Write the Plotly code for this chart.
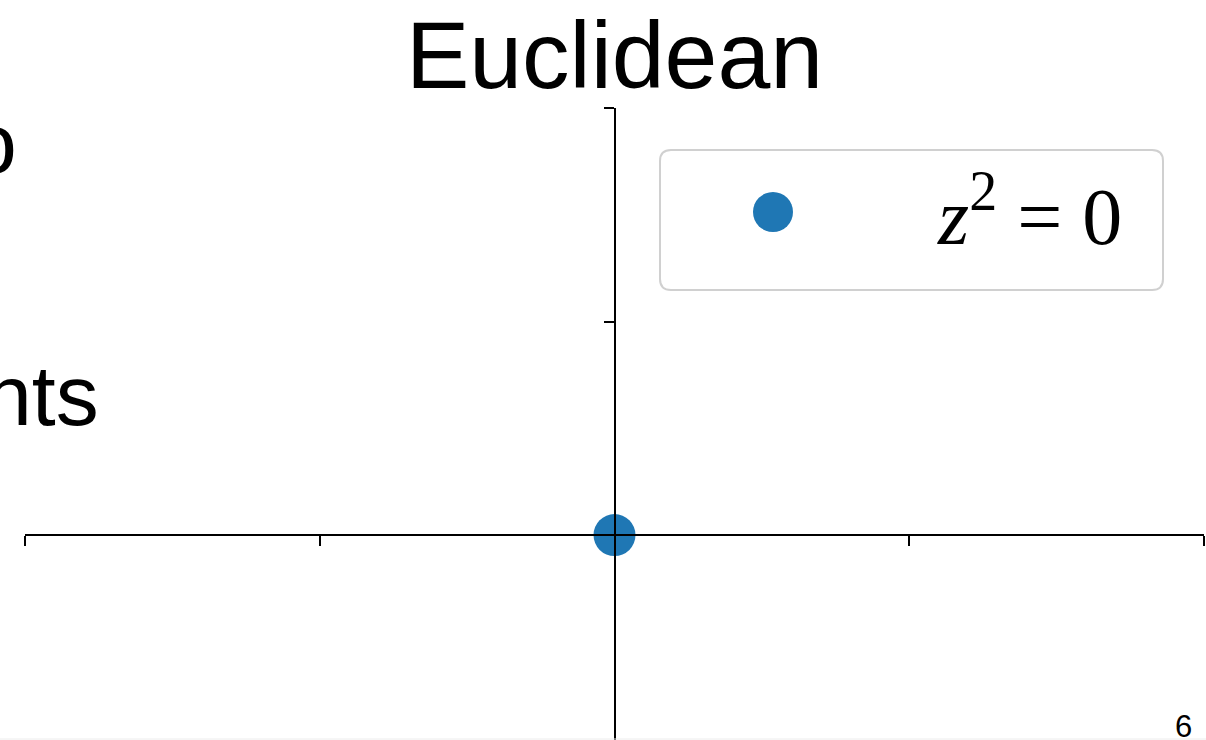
import plotly.graph_objects as go

# figure / plot area in pixels
W, H = 1206, 740
L, R, T, B = 25, 2, 108, 0

# data
points_x = [0]
points_y = [0]
x_ticks = [-2, -1, 0, 1, 2]
y_ticks = [-1, 0, 1, 2]
x_range = [-2, 2]
y_range = [-0.96, 2]

title_text = "Euclidean"
legend_label = "<i>z</i><sup>2</sup>&nbsp;=&nbsp;0"
slide_lines = ["o", "nts"]
page_number = "6"

blue = "#1f77b4"


def px_x(px):
    return (px - L) / (W - L - R)


def px_y(py):
    return (H - B - py) / (H - T - B)


# where the spines cross (origin), as fractions of the plot area
x0_frac = (0 - x_range[0]) / (x_range[1] - x_range[0])
y0_frac = (0 - y_range[0]) / (y_range[1] - y_range[0])

fig = go.Figure()
fig.add_trace(go.Scatter(x=points_x, y=points_y, mode="markers",
                         marker=dict(size=42, color=blue),
                         cliponaxis=False, showlegend=False))

axis_style = dict(showticklabels=False, showline=True, linecolor="black",
                  linewidth=2, ticks="outside", ticklen=10, tickwidth=2,
                  tickcolor="black", showgrid=False, zeroline=False,
                  anchor="free", fixedrange=True)

fig.update_layout(
    width=W, height=H,
    margin=dict(l=L, r=R, t=T, b=B),
    paper_bgcolor="white", plot_bgcolor="white",
    xaxis=dict(range=x_range, tickvals=x_ticks, position=y0_frac, **axis_style),
    yaxis=dict(range=y_range, tickvals=y_ticks, position=x0_frac, **axis_style),
    title=dict(text=title_text, x=0.5, xref="paper", xanchor="center",
               y=1 - 55 / H, yref="container", yanchor="middle",
               font=dict(family="Liberation Sans, Arial", size=95, color="black")),
    showlegend=False,
)

# legend box drawn by hand (rounded rectangle + big marker)
hw, hh, rr = 251.5, 70, 11
box_path = (f"M {-hw + rr},{-hh} L {hw - rr},{-hh} Q {hw},{-hh} {hw},{-hh + rr} "
            f"L {hw},{hh - rr} Q {hw},{hh} {hw - rr},{hh} L {-hw + rr},{hh} "
            f"Q {-hw},{hh} {-hw},{hh - rr} L {-hw},{-hh + rr} Q {-hw},{-hh} {-hw + rr},{-hh} Z")
fig.add_shape(type="path", path=box_path, xref="paper", yref="paper",
              xsizemode="pixel", ysizemode="pixel",
              xanchor=px_x(911.5), yanchor=px_y(220),
              line=dict(color="#d0d0d0", width=2), fillcolor="white")
fig.add_shape(type="circle", xref="paper", yref="paper",
              xsizemode="pixel", ysizemode="pixel",
              xanchor=px_x(773), yanchor=px_y(212),
              x0=-20, x1=20, y0=-20, y1=20,
              line=dict(width=0), fillcolor=blue)
fig.add_annotation(text=legend_label, xref="paper", yref="paper",
                   x=px_x(1124), y=px_y(210), xanchor="right", yanchor="middle",
                   showarrow=False,
                   font=dict(family="Liberation Serif, DejaVu Serif", size=80, color="black"))

# slide text cut off on the left
fig.add_annotation(text=slide_lines[0], xref="paper", yref="paper",
                   x=px_x(19), y=px_y(143), xanchor="right", yanchor="middle",
                   showarrow=False,
                   font=dict(family="Liberation Sans, Arial", size=86, color="black"))
fig.add_annotation(text=slide_lines[1], xref="paper", yref="paper",
                   x=px_x(101), y=px_y(395), xanchor="right", yanchor="middle",
                   showarrow=False,
                   font=dict(family="Liberation Sans, Arial", size=86, color="black"))

# page number
fig.add_annotation(text=page_number, xref="paper", yref="paper",
                   x=px_x(1183), y=px_y(726), xanchor="center", yanchor="middle",
                   showarrow=False,
                   font=dict(family="Liberation Sans, Arial", size=31, color="black"))

# faint slide edge along the bottom
fig.add_shape(type="line", xref="paper", yref="paper", x0=px_x(0), x1=px_x(W),
              y0=px_y(739), y1=px_y(739), line=dict(color="#ececec", width=1))

fig.write_html("out.html", config=dict(displayModeBar=False),
               post_script="document.body.style.margin='0';")
